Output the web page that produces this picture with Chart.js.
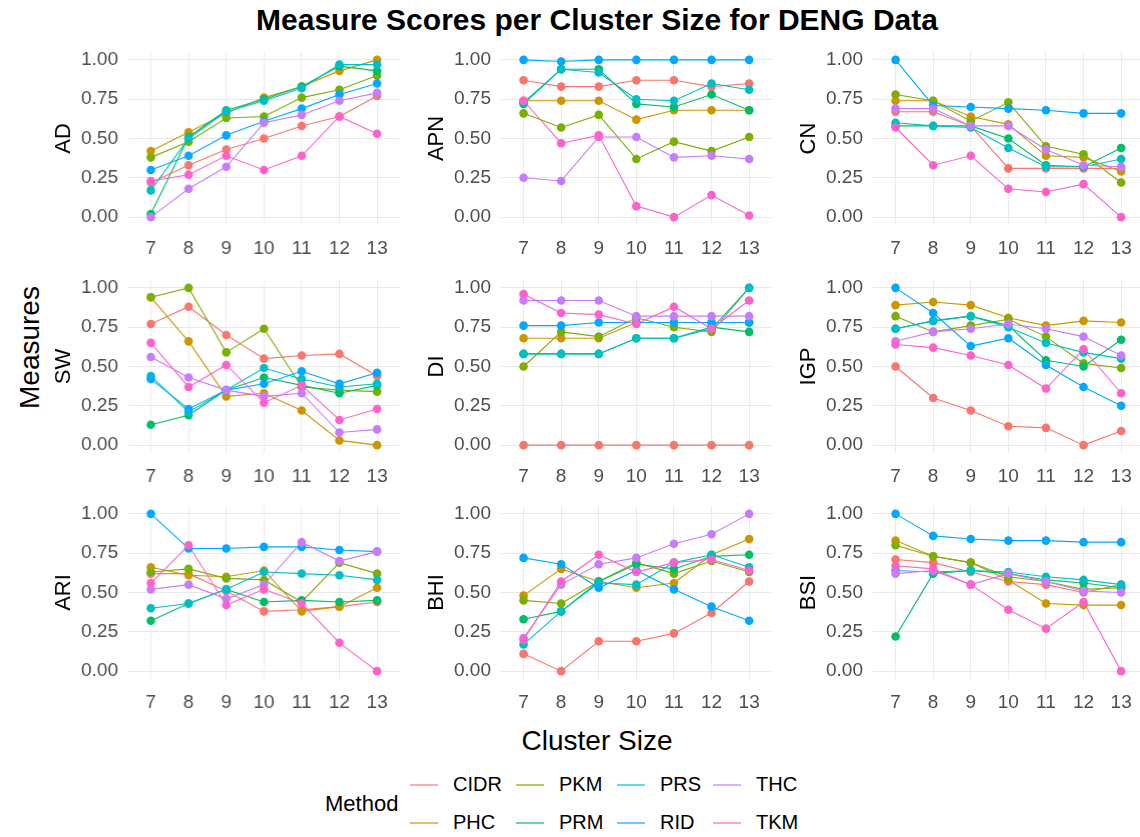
<!DOCTYPE html>
<html>
<head>
<meta charset="utf-8">
<script src="https://cdn.jsdelivr.net/npm/chart.js@4.4.1/dist/chart.umd.min.js"></script>
<style>
  body { margin:0; width:1140px; height:837px; overflow:hidden; background:#fff; position:relative;
         font-family:"Liberation Sans", Arial, sans-serif; }
  canvas { position:absolute; }
  .txt { position:absolute; white-space:nowrap; color:#000; }
  .key { position:absolute; width:28px; height:2px; }
</style>
</head>
<body>
<div class="txt" id="title" style="left:0;width:1194px;top:3px;text-align:center;font-size:30px;font-weight:bold;">Measure Scores per Cluster Size for DENG Data</div>
<div class="txt" style="left:-30px;top:333px;width:120px;text-align:center;font-size:28px;transform:rotate(-90deg);">Measures</div>
<div class="txt" style="left:0;width:1194px;top:725px;text-align:center;font-size:28px;">Cluster Size</div>
<div id="legend"></div>

<script>
"use strict"

// cluster sizes on the x axis
const clusterSizes = [7, 8, 9, 10, 11, 12, 13];
const yTicks = [0, 0.125, 0.25, 0.375, 0.5, 0.625, 0.75, 0.875, 1];

const methods = ["CIDR", "PHC", "PKM", "PRM", "PRS", "RID", "THC", "TKM"];
const colors  = ["#F8766D", "#CD9600", "#7CAE00", "#00BE67", "#00BFC4", "#00A9FF", "#C77CFF", "#FF61CC"];

// one row per method (same order as methods)
const AD = [
  [0.22, 0.33, 0.43, 0.50, 0.58, 0.64, 0.77],
  [0.42, 0.54, 0.66, 0.76, 0.83, 0.93, 1.00],
  [0.38, 0.48, 0.63, 0.64, 0.76, 0.81, 0.90],
  [0.02, 0.51, 0.68, 0.75, 0.83, 0.96, 0.93],
  [0.17, 0.50, 0.67, 0.74, 0.82, 0.97, 0.97],
  [0.30, 0.39, 0.52, 0.61, 0.69, 0.78, 0.85],
  [0.00, 0.18, 0.32, 0.60, 0.65, 0.74, 0.79],
  [0.23, 0.27, 0.39, 0.30, 0.39, 0.64, 0.53]
];
const APN = [
  [0.87, 0.83, 0.83, 0.87, 0.87, 0.83, 0.85],
  [0.74, 0.74, 0.74, 0.62, 0.68, 0.68, 0.68],
  [0.66, 0.57, 0.65, 0.37, 0.48, 0.42, 0.51],
  [0.72, 0.94, 0.94, 0.72, 0.70, 0.78, 0.68],
  [0.73, 0.94, 0.92, 0.75, 0.74, 0.85, 0.81],
  [1.00, 0.99, 1.00, 1.00, 1.00, 1.00, 1.00],
  [0.25, 0.23, 0.51, 0.51, 0.38, 0.39, 0.37],
  [0.74, 0.47, 0.52, 0.07, 0.00, 0.14, 0.01]
];
const CN = [
  [0.67, 0.67, 0.58, 0.31, 0.31, 0.31, 0.31],
  [0.74, 0.74, 0.64, 0.59, 0.39, 0.38, 0.29],
  [0.78, 0.74, 0.61, 0.73, 0.45, 0.40, 0.22],
  [0.58, 0.58, 0.58, 0.50, 0.33, 0.32, 0.44],
  [0.60, 0.58, 0.57, 0.44, 0.32, 0.32, 0.37],
  [1.00, 0.71, 0.70, 0.69, 0.68, 0.66, 0.66],
  [0.69, 0.69, 0.58, 0.58, 0.43, 0.33, 0.32],
  [0.57, 0.33, 0.39, 0.18, 0.16, 0.21, 0.00]
];
const SW = [
  [0.77, 0.88, 0.70, 0.55, 0.57, 0.58, 0.44],
  [0.94, 0.66, 0.31, 0.33, 0.22, 0.03, 0.00],
  [0.94, 1.00, 0.59, 0.74, 0.37, 0.35, 0.34],
  [0.13, 0.19, 0.35, 0.43, 0.38, 0.33, 0.38],
  [0.44, 0.21, 0.35, 0.49, 0.42, 0.37, 0.39],
  [0.42, 0.23, 0.35, 0.39, 0.47, 0.39, 0.46],
  [0.56, 0.43, 0.35, 0.31, 0.33, 0.08, 0.10],
  [0.65, 0.37, 0.51, 0.27, 0.38, 0.16, 0.23]
];
const DI = [
  [0.00, 0.00, 0.00, 0.00, 0.00, 0.00, 0.00],
  [0.68, 0.68, 0.68, 0.78, 0.78, 0.78, 0.78],
  [0.50, 0.72, 0.69, 0.81, 0.75, 0.72, 1.00],
  [0.58, 0.58, 0.58, 0.68, 0.68, 0.75, 0.72],
  [0.58, 0.58, 0.58, 0.68, 0.68, 0.74, 1.00],
  [0.76, 0.76, 0.78, 0.78, 0.78, 0.78, 0.78],
  [0.92, 0.92, 0.92, 0.82, 0.82, 0.82, 0.82],
  [0.96, 0.84, 0.83, 0.77, 0.88, 0.74, 0.92]
];
const IGP = [
  [0.50, 0.30, 0.22, 0.12, 0.11, 0.00, 0.09],
  [0.89, 0.91, 0.89, 0.81, 0.76, 0.79, 0.78],
  [0.82, 0.72, 0.76, 0.80, 0.69, 0.52, 0.49],
  [0.74, 0.79, 0.82, 0.76, 0.54, 0.50, 0.67],
  [0.74, 0.79, 0.82, 0.75, 0.65, 0.59, 0.55],
  [1.00, 0.84, 0.63, 0.68, 0.51, 0.37, 0.25],
  [0.66, 0.72, 0.74, 0.77, 0.74, 0.69, 0.57],
  [0.64, 0.62, 0.57, 0.51, 0.36, 0.61, 0.33]
];
const ARI = [
  [0.62, 0.62, 0.51, 0.38, 0.39, 0.41, 0.44],
  [0.66, 0.61, 0.60, 0.64, 0.38, 0.41, 0.53],
  [0.63, 0.65, 0.59, 0.58, 0.44, 0.69, 0.62],
  [0.32, 0.43, 0.52, 0.44, 0.45, 0.44, 0.45],
  [0.40, 0.43, 0.52, 0.63, 0.62, 0.61, 0.58],
  [1.00, 0.78, 0.78, 0.79, 0.79, 0.77, 0.76],
  [0.52, 0.55, 0.46, 0.55, 0.82, 0.70, 0.76],
  [0.56, 0.80, 0.42, 0.52, 0.43, 0.18, 0.00]
];
const BHI = [
  [0.11, 0.00, 0.19, 0.19, 0.24, 0.37, 0.57],
  [0.48, 0.65, 0.57, 0.53, 0.56, 0.74, 0.84],
  [0.45, 0.43, 0.57, 0.69, 0.62, 0.70, 0.63],
  [0.33, 0.38, 0.57, 0.68, 0.65, 0.73, 0.74],
  [0.17, 0.38, 0.56, 0.55, 0.69, 0.74, 0.66],
  [0.72, 0.68, 0.53, 0.64, 0.52, 0.41, 0.32],
  [0.21, 0.55, 0.68, 0.72, 0.81, 0.87, 1.00],
  [0.20, 0.57, 0.74, 0.63, 0.69, 0.71, 0.64]
];
const BSI = [
  [0.71, 0.69, 0.63, 0.57, 0.55, 0.50, 0.55],
  [0.83, 0.73, 0.69, 0.58, 0.43, 0.42, 0.42],
  [0.80, 0.73, 0.69, 0.60, 0.57, 0.52, 0.53],
  [0.22, 0.62, 0.64, 0.62, 0.58, 0.56, 0.53],
  [0.64, 0.63, 0.64, 0.63, 0.60, 0.58, 0.55],
  [1.00, 0.86, 0.84, 0.83, 0.83, 0.82, 0.82],
  [0.62, 0.64, 0.55, 0.62, 0.57, 0.51, 0.50],
  [0.67, 0.65, 0.55, 0.39, 0.27, 0.44, 0.00]
];

const panels = [
  ["AD", AD], ["APN", APN], ["CN", CN],
  ["SW", SW], ["DI", DI], ["IGP", IGP],
  ["ARI", ARI], ["BHI", BHI], ["BSI", BSI]
];

// panel plot areas (px)
const colLeft = [128, 500.5, 872.5];
const rowTop = [52, 280, 506];
const areaW = 271.5, areaH = 173;
const yAxisW = 77, xAxisH = 40;
const padTop = 12, padRight = 4;

function isMajor(v) { return Math.abs(v * 4 - Math.round(v * 4)) < 1e-6; }

function makePanel(idx) {
  const name = panels[idx][0], scores = panels[idx][1];
  const col = idx % 3, row = Math.floor(idx / 3);
  const cv = document.createElement("canvas");
  const w = yAxisW + areaW + padRight, h = padTop + areaH + xAxisH;
  cv.width = w; cv.height = h;
  cv.style.left = (colLeft[col] - yAxisW) + "px";
  cv.style.top = (rowTop[row] - padTop) + "px";
  cv.style.width = w + "px"; cv.style.height = h + "px";
  document.body.appendChild(cv);

  let datasets = [];
  // lines under points, like ggplot
  methods.forEach((m, i) => {
    datasets.push({
      label: m,
      data: clusterSizes.map((x, j) => ({ x: x, y: scores[i][j] })),
      borderColor: colors[i], borderWidth: 1.1,
      pointRadius: 0, fill: false, order: 100 - i
    });
  });
  methods.forEach((m, i) => {
    datasets.push({
      label: m + "_pt",
      data: clusterSizes.map((x, j) => ({ x: x, y: scores[i][j] })),
      backgroundColor: colors[i], borderColor: colors[i], borderWidth: 0,
      showLine: false, pointRadius: 4.3, order: 50 - i
    });
  });

  new Chart(cv, {
    type: "line",
    data: { datasets: datasets },
    options: {
      responsive: false, animation: false, devicePixelRatio: 1,
      layout: { padding: { top: padTop, right: padRight, left: 0, bottom: 0 } },
      plugins: { legend: { display: false }, tooltip: { enabled: false } },
      scales: {
        x: {
          type: "linear", min: 6.4, max: 13.6,
          afterBuildTicks: s => { s.ticks = clusterSizes.map(v => ({ value: v })); },
          afterFit: s => { s.height = xAxisH; s.paddingLeft = 0; s.paddingRight = 0; },
          grid: { color: "#ebebeb", lineWidth: 1, drawTicks: false },
          border: { display: false },
          ticks: { color: "#4d4d4d", font: { family: "Liberation Sans", size: 19 }, padding: 12, maxRotation: 0 }
        },
        y: {
          min: -0.05, max: 1.05,
          afterBuildTicks: s => { s.ticks = yTicks.map(v => ({ value: v })); },
          afterFit: s => { s.width = yAxisW; s.paddingTop = 0; s.paddingBottom = 0; },
          grid: {
            color: c => isMajor(c.tick.value) ? "#e8e8e8" : "#f3f3f3",
            lineWidth: 1, drawTicks: false
          },
          border: { display: false },
          ticks: {
            color: "#4d4d4d", font: { family: "Liberation Sans", size: 19 }, padding: 10,
            callback: v => isMajor(v) ? v.toFixed(2) : ""
          },
          title: { display: true, text: name, color: "#000", font: { family: "Liberation Sans", size: 22 }, padding: { top: 0, bottom: 0 } }
        }
      }
    }
  });
}

for (let i = 0; i < panels.length; i++) makePanel(i);

// legend: two rows, filled column by column
function buildLegend() {
  const lg = document.getElementById("legend");
  let t = document.createElement("div");
  t.className = "txt";
  t.style.cssText = "left:325px;top:791px;font-size:22px;";
  t.textContent = "Method";
  lg.appendChild(t);
  const keyX = [410, 516, 617, 713];
  const rowY = [785, 823];
  methods.forEach((m, i) => {
    const c = Math.floor(i / 2), r = i % 2;
    let k = document.createElement("div");
    k.className = "key";
    k.style.left = keyX[c] + "px";
    k.style.top = (rowY[r] - 1) + "px";
    k.style.background = colors[i];
    k.style.opacity = 0.6;
    lg.appendChild(k);
    let l = document.createElement("div");
    l.className = "txt";
    l.style.left = (keyX[c] + 43) + "px";
    l.style.top = (rowY[r] - 12) + "px";
    l.style.fontSize = "20px";
    l.textContent = m;
    lg.appendChild(l);
  });
}
buildLegend();
</script>
</body>
</html>
